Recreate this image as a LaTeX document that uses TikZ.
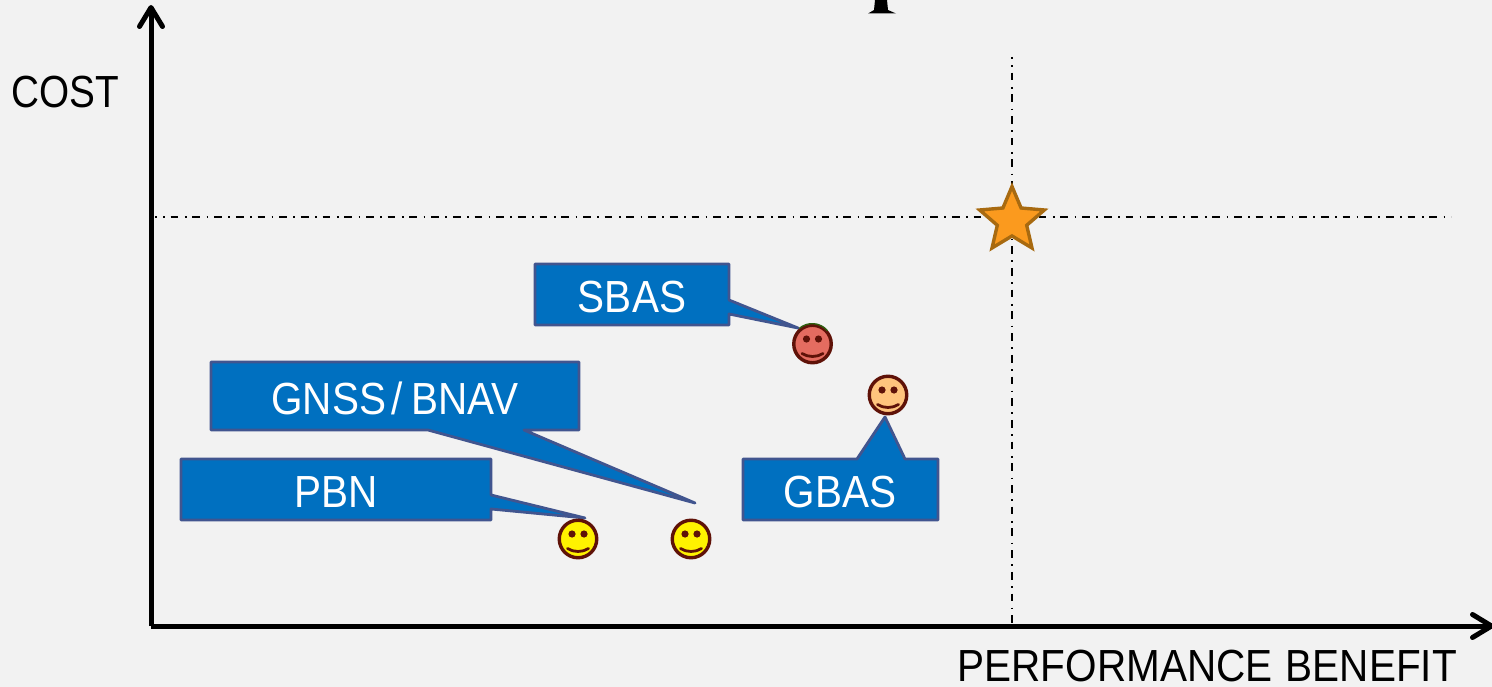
\documentclass[tikz,border=0pt]{standalone}
\usepackage{fontspec}
\setmainfont[FakeStretch=0.90]{Liberation Sans}
\newfontfamily\narrowfont[FakeStretch=0.86]{Liberation Sans}
\usetikzlibrary{arrows, arrows.meta}
\usetikzlibrary{shapes.geometric}
\definecolor{paper}{HTML}{F2F2F2}
\definecolor{boxblue}{HTML}{0070C0}
\definecolor{boxedge}{HTML}{41558F}
\definecolor{faceedge}{HTML}{5F1208}
\definecolor{facered}{HTML}{E46C60}
\definecolor{facepeach}{HTML}{FFC47D}
\definecolor{facegreen}{HTML}{2F6010}
\definecolor{staredge}{HTML}{A86A10}
\definecolor{starfill}{HTML}{FB9A1E}
\tikzset{
  axisline/.style={line width=5pt,-{Straight Barb[length=19pt,width=23pt,line width=5pt,round]}},
  guideline/.style={line width=1.4pt,dash pattern=on 7.7pt off 6.5pt on 1.7pt off 5.8pt,dash phase=6pt},
  calloutbox/.style={draw=boxedge,line width=2.8pt,fill=boxblue,line join=round},
  calloutlabel/.style={text=white,font=\fontsize{45pt}{45pt}\selectfont,inner sep=0pt},
  axislabel/.style={text=black,font=\fontsize{45pt}{45pt}\selectfont,inner sep=0pt,text depth=0pt},
  faceline/.style={draw=faceedge,line width=3.4pt},
}
% one smiley: name, centre, fill colour
\newcommand{\smiley}[3]{
  \node[faceline,circle,fill=#3,minimum size=37.5pt,inner sep=0pt] (#1) at (#2) {};
  \fill[faceedge] (#1.center) ++(-6pt,5pt) circle (3.6pt);
  \fill[faceedge] (#1.center) ++(6pt,5pt) circle (3.6pt);
  \draw[faceedge,line width=2.8pt,line cap=round] (#1.center) ++(-10.5pt,-9.5pt) .. controls +(6pt,-4pt) and +(-6pt,-4pt) .. +(21pt,0pt);
}
\begin{document}
\begin{tikzpicture}[x=1pt,y=-1pt]
\useasboundingbox (0,0) rectangle (1492,687);
\fill[paper] (0,0) rectangle (1492,687);

% foot of the cut-off letter above the picture
\fill[black] (875,0) -- (887,0) -- (888,10) -- (896,13.5) -- (868,13.5) -- (874,10) -- cycle;

% guides
\coordinate (hstart) at (155,217);
\coordinate (hend) at (1451,217);
\coordinate (vstart) at (1012,57);
\coordinate (vend) at (1012,625);
\draw[guideline] (hstart) -- (hend);
\draw[guideline] (vstart) -- (vend);

% axes
\coordinate (origin) at (151,626);
\coordinate (ytip) at (151,5);
\coordinate (xtip) at (1494,626);
\draw[axisline] (origin) -- (ytip);
\draw[axisline] (origin) -- (xtip);

\node[axislabel,anchor=base west] (costlabel) at (11,108) {\narrowfont COST};
\node[axislabel,anchor=base east] (perflabel) at (1457,681) {PERFORMANCE\kern2pt\ BENEFIT};

% target
\node[star,star points=5,star point ratio=2.2,draw=staredge,fill=starfill,line width=3.4pt,minimum size=68pt,inner sep=0pt] (target) at (1012,220.5) {};

% callouts
\draw[calloutbox] (535,264) -- (729,264) -- (729,300) -- (798,328) -- (729,314) -- (729,325) -- (535,325) -- cycle;
\node[calloutlabel] (sbas) at (632,297) {SBAS};

\draw[calloutbox] (211,362) -- (579,362) -- (579,430) -- (524,430) -- (695,503) -- (428,430) -- (211,430) -- cycle;
\node[calloutlabel] (gnss) at (395,398) {GNSS\kern5pt/\kern9pt BNAV};

\draw[calloutbox] (181,459) -- (491,459) -- (491,495) -- (585,518) -- (491,509) -- (491,520) -- (181,520) -- cycle;
\node[calloutlabel] (pbn) at (336,492) {PBN};

\draw[calloutbox] (743,459) -- (857,459) -- (885,417) -- (905,459) -- (938,459) -- (938,520) -- (743,520) -- cycle;
\node[calloutlabel] (gbas) at (840,492) {GBAS};

% faces
\smiley{facesbas}{812.5,344}{facered}
\draw[facegreen,line width=1.4pt] (facesbas.130) arc (130:40:20pt);
\smiley{facegbas}{888,395}{facepeach}
\smiley{facepbn}{578,539}{yellow}
\smiley{facegnss}{691,539}{yellow}

\end{tikzpicture}
\end{document}
